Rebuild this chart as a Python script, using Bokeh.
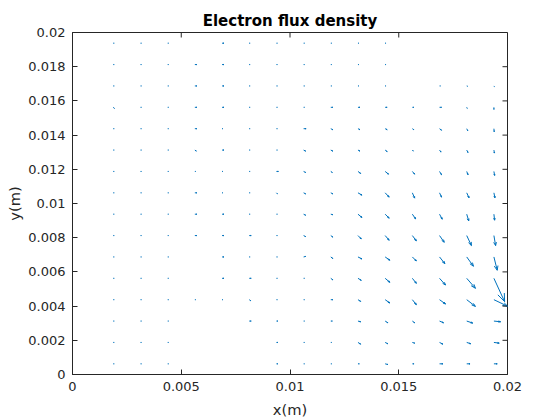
from bokeh.plotting import figure
from bokeh.models import FixedTicker, Range1d, ColumnDataSource
from bokeh.embed import file_html
from bokeh.resources import INLINE

# grid nodes (m)
x_nodes = [0.001875, 0.003125, 0.004375, 0.005625, 0.006875, 0.008125, 0.009375, 0.010625,
           0.011875, 0.013125, 0.014375, 0.015625, 0.016875, 0.018125, 0.019375]
y_nodes = [0.000625, 0.001875, 0.003125, 0.004375, 0.005625, 0.006875, 0.008125, 0.009375,
           0.010625, 0.011875, 0.013125, 0.014375, 0.015625, 0.016875, 0.018125, 0.019375]

# flux components (relative units), rows = y_nodes (bottom -> top), cols = x_nodes
flux_x = [
    [0.4, 0.4, 0.4, 0, 0, 0, 0.69, 0.4, 0.4, 0.6, 1.24, 0.78, 1.52, 1.52, 1.52],
    [0.4, 0.4, 0.4, 0, 0, 0, 0.69, 0.4, 0.4, 1.24, 1.24, 1.06, 1.52, 1.84, 2.44],
    [0.4, 0.4, 0.4, 0, 0, 0.9, 0.69, 0.4, 0.69, 1.24, 1.24, 1.06, 1.84, 2.76, 3.08],
    [0.4, 0.4, 0.4, 0.4, 0.4, 0.69, 0.4, 0.4, 0.92, 1.24, 2.16, 1.84, 2.76, 4.0, 6.44],
    [0.4, 0.4, 0.4, 0, 0.9, 0.9, 0.4, 0.4, 0.92, 1.52, 2.16, 1.84, 2.76, 4.0, 4.92],
    [0.4, 0.4, 0.4, 0, 0.9, 0.4, 0.4, 0.92, 0.92, 1.84, 2.16, 1.84, 2.44, 3.08, 1.52],
    [0.4, 0.4, 0.4, 0.9, 0.9, 0.9, 0.4, 0.92, 0.92, 1.52, 1.84, 1.84, 2.16, 2.16, 0.78],
    [0.4, 0.4, 0.4, 0.9, 0.9, 0.4, 0.4, 0.92, 0.92, 1.84, 1.84, 1.52, 1.24, 0.92, 0.32],
    [0.4, 0.4, 0.4, 0.9, 0.4, 0.4, 0.46, 0.92, 0.92, 1.84, 1.84, 1.06, 0.92, 1.06, 0.46],
    [0.4, 0.4, 0.4, 0.4, 0.4, 0.4, 0.9, 0.92, 0.69, 1.24, 1.52, 1.06, 0.92, 0.6, 0.32],
    [0.4, 0.4, 0.4, 0.69, 0.9, 0.4, 0.4, 0.92, 0.92, 0.92, 0.92, 0.46, 0.69, 0.6, 0.23],
    [0.4, 0.4, 0.4, 0.9, 0.4, 0.4, 0.4, 1.15, 0.92, 0.92, 0.92, 0.69, 0.92, 0.46, 0.14],
    [0.5, 0.4, 0.4, 0.9, 0.9, 0.4, 0.4, 0.4, 0.9, 0.9, 0.9, 0.7, 0.9, 0.23, 0.0],
    [0.4, 0.4, 0.4, 0.9, 0.9, 0.4, 0.4, 0.4, 0.4, 0.4, 0.4, 0, 0.4, 0.4, 0.2],
    [0.4, 0.4, 0.4, 0.9, 0.9, 0.4, 0.4, 0.4, 0.4, 0.4, 0.4, 0, 0, 0, 0],
    [0.4, 0.4, 0.4, 0, 0.9, 0.4, 0.4, 0.4, 0.4, 0.4, 0.4, 0, 0, 0, 0],
]
flux_y = [
    [0, 0, 0, 0, 0, 0, 0, 0, 0, 0, -0.41, 0, 0, 0, 0],
    [0, 0, 0, 0, 0, 0, 0, 0, 0, -0.99, -0.76, -0.41, -0.99, -0.76, -0.41],
    [0, 0, 0, 0, 0, 0, 0, 0, 0, -0.41, -0.99, -0.99, -0.99, -1.17, -0.41],
    [0, 0, 0, 0, 0, -0.59, 0, 0, 0, -0.99, -1.93, -2.93, -2.52, -3.92, -3.92],
    [0, 0, 0, 0, 0, 0, 0, 0, -0.88, -1.17, -2.34, -2.93, -3.92, -5.85, -13.63],
    [0, 0, 0, 0, 0, 0, 0, 0.29, -0.88, -1.17, -1.93, -2.34, -3.92, -5.44, -7.78],
    [0, 0, 0, 0, 0, 0, 0, -0.59, -0.88, -1.93, -2.75, -3.1, -3.92, -5.85, -5.85],
    [0, 0, 0, 0, 0, 0, 0, -0.59, -0.29, -1.93, -2.34, -2.75, -2.93, -3.92, -3.51],
    [0, 0, 0, 0, 0, 0, -0.59, -0.59, -0.59, -1.35, -2.52, -3.1, -2.52, -2.93, -2.93],
    [0, 0, 0, 0, 0, 0, 0, -0.59, -0.59, -1.17, -1.58, -1.58, -1.93, -1.93, -2.34],
    [0, 0, 0, -0.59, 0, 0, 0, -0.59, -0.59, -0.59, -0.88, -0.59, -1.17, -1.46, -1.76],
    [0, 0, 0, 0, 0, 0, 0, 0, -0.59, -0.59, -0.59, -0.59, -0.88, -1.17, -1.76],
    [-0.6, 0, 0, 0, 0, 0, 0, 0, 0, 0, 0, 0, 0, -0.6, -1.2],
    [0, 0, 0, 0, 0, 0, 0, 0, 0, 0, 0, 0, 0, -0.2, -0.4],
    [0, 0, 0, 0, 0, 0, 0, 0, 0, 0, 0, 0, 0, 0, 0],
    [0, 0, 0, 0, 0, 0, 0, 0, 0, 0, 0, 0, 0, 0, 0],
]

x_ticks = [0, 0.005, 0.01, 0.015, 0.02]
x_tick_labels = ["0", "0.005", "0.01", "0.015", "0.02"]
y_ticks = [0, 0.002, 0.004, 0.006, 0.008, 0.01, 0.012, 0.014, 0.016, 0.018, 0.02]
y_tick_labels = ["0", "0.002", "0.004", "0.006", "0.008", "0.01", "0.012", "0.014",
                 "0.016", "0.018", "0.02"]

title_text = "Electron flux density"
x_label = "x(m)"
y_label = "y(m)"

X_MIN, X_MAX = 0, 0.02
Y_MIN, Y_MAX = 0, 0.02
FRAME_W, FRAME_H = 435, 342
TICK_PX = 5

scale = 1e-4      # arrow length per flux unit (m)
alpha = 0.33      # head length fraction
beta = 0.33       # head width fraction

arrows = dict(x0=[], y0=[], x1=[], y1=[])
for j, yv in enumerate(y_nodes):
    for k, xv in enumerate(x_nodes):
        u = flux_x[j][k] * scale
        v = flux_y[j][k] * scale
        if u == 0 and v == 0:
            continue
        tx, ty = xv + u, yv + v
        arrows["x0"].append(xv); arrows["y0"].append(yv)
        arrows["x1"].append(tx); arrows["y1"].append(ty)
        arrows["x0"].append(tx); arrows["y0"].append(ty)
        arrows["x1"].append(tx - alpha * (u + beta * v)); arrows["y1"].append(ty - alpha * (v - beta * u))
        arrows["x0"].append(tx); arrows["y0"].append(ty)
        arrows["x1"].append(tx - alpha * (u - beta * v)); arrows["y1"].append(ty - alpha * (v + beta * u))

# mirrored inner ticks on the top and right edges of the box
tx_len = TICK_PX * (X_MAX - X_MIN) / FRAME_W
ty_len = TICK_PX * (Y_MAX - Y_MIN) / FRAME_H
mirror = dict(
    x0=[t for t in x_ticks] + [X_MAX for _ in y_ticks],
    y0=[Y_MAX for _ in x_ticks] + [t for t in y_ticks],
    x1=[t for t in x_ticks] + [X_MAX - tx_len for _ in y_ticks],
    y1=[Y_MAX - ty_len for _ in x_ticks] + [t for t in y_ticks],
)

axis_color = "#262626"
font = "DejaVu Sans"

p = figure(width=560, height=420, output_backend="svg", toolbar_location=None,
           x_range=Range1d(X_MIN, X_MAX), y_range=Range1d(Y_MIN, Y_MAX),
           min_border_left=72, min_border_right=53, min_border_top=32, min_border_bottom=46,
           title=title_text)
p.segment(x0="x0", y0="y0", x1="x1", y1="y1", source=ColumnDataSource(arrows),
          line_color="#0072BD", line_width=1)
p.segment(x0="x0", y0="y0", x1="x1", y1="y1", source=ColumnDataSource(mirror),
          line_color=axis_color, line_width=1)

p.grid.visible = False
p.outline_line_color = axis_color
p.outline_line_width = 1
p.background_fill_color = "white"
p.border_fill_color = "white"

p.title.text_font = font
p.title.text_font_size = "15px"
p.title.text_font_style = "bold"
p.title.text_color = "black"
p.title.align = "center"
p.title.text_line_height = 1.0
p.title.standoff = 6

for ax, ticks, labels in ((p.xaxis[0], x_ticks, x_tick_labels), (p.yaxis[0], y_ticks, y_tick_labels)):
    ax.ticker = FixedTicker(ticks=ticks)
    ax.major_label_overrides = {t: l for t, l in zip(ticks, labels)}
    ax.major_tick_in = TICK_PX
    ax.major_tick_out = 0
    ax.minor_tick_line_color = None
    ax.axis_line_color = axis_color
    ax.major_tick_line_color = axis_color
    ax.major_label_text_font = font
    ax.major_label_text_font_size = "13px"
    ax.major_label_text_color = axis_color
    ax.major_label_text_line_height = 1.0
    ax.axis_label_text_font = font
    ax.axis_label_text_font_size = "14.7px"
    ax.axis_label_text_font_style = "normal"
    ax.axis_label_text_color = axis_color
    ax.axis_label_text_line_height = 1.0

p.xaxis[0].axis_label = x_label
p.yaxis[0].axis_label = y_label
p.xaxis[0].major_label_standoff = 7
p.xaxis[0].axis_label_standoff = 7
p.yaxis[0].major_label_standoff = 7
p.yaxis[0].axis_label_standoff = 2

open("out.html", "w").write(file_html(p, INLINE))
